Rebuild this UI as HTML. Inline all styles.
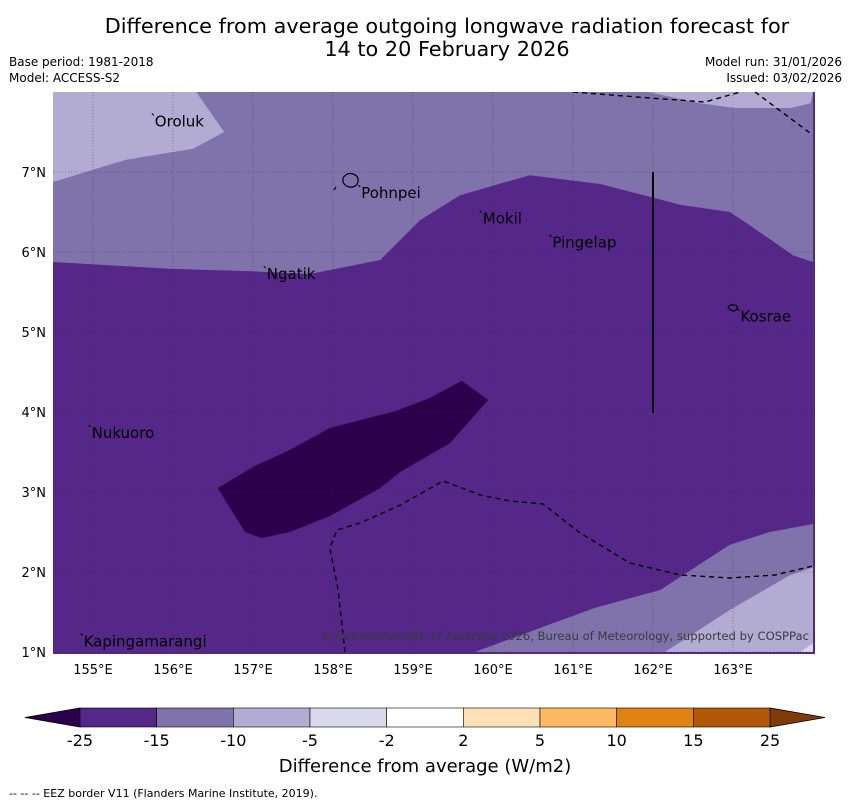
<!DOCTYPE html>
<html><head><meta charset="utf-8"><style>
body{margin:0;background:#fff;width:850px;height:804px;overflow:hidden;font-family:"DejaVu Sans","Liberation Sans",sans-serif}
</style></head><body>
<svg id="chart" width="850" height="804" xmlns="http://www.w3.org/2000/svg" font-family="DejaVu Sans, Liberation Sans, sans-serif">
<text x="447" y="33" font-size="20.8" text-anchor="middle">Difference from average outgoing longwave radiation forecast for</text>
<text x="447" y="56" font-size="20.8" text-anchor="middle">14 to 20 February 2026</text>
<text x="9" y="66" font-size="12">Base period: 1981-2018</text>
<text x="9" y="82" font-size="12">Model: ACCESS-S2</text>
<text x="842" y="66" font-size="12" text-anchor="end">Model run: 31/01/2026</text>
<text x="842" y="82" font-size="12" text-anchor="end">Issued: 03/02/2026</text>
<defs><clipPath id="mc"><rect x="53" y="92" width="762" height="562"/></clipPath></defs>
<g id="map" clip-path="url(#mc)"></g>
<g id="axes"></g>
<g id="cbar"></g>
<text x="425" y="772" font-size="18" text-anchor="middle">Difference from average (W/m2)</text>
<text x="9" y="797" font-size="11">--  --  -- EEZ border V11 (Flanders Marine Institute, 2019).</text>
</svg>
<script>
const lonTicks=[155,156,157,158,159,160,161,162,163];
const latTicks=[1,2,3,4,5,6,7];
const cbLevels=["-25","-15","-10","-5","-2","2","5","10","15","25"];
const cbColors=["#542788","#8073ac","#b2abd2","#d8daeb","#ffffff","#fee0b6","#fdb863","#e08214","#b35806"];
const cbExtendLow="#2d004b", cbExtendHigh="#7f3b08";
const polyTopLight=[[154.5,8],[156.29,8],[156.64,7.5],[156.25,7.29],[155.4,7.15],[154.5,6.875]];
const polyMidUpper=[[154.5,8],[164,8],[164,5.875],[163.75,5.96],[163.2,6.34],[162.96,6.5],[162.34,6.59],[161.34,6.85],[160.46,6.96],[159.59,6.71],[159.09,6.4],[158.59,5.9],[157.71,5.725],[156.96,5.76],[155.96,5.79],[154.5,5.875]];
const polyTopRightLight=[[161.94,8],[162.59,7.86],[163.03,7.8],[163.72,7.8],[163.97,7.86],[164,8]];
const polyDark=[[156.56,3.05],[156.9,2.5],[157.11,2.425],[157.46,2.5],[157.96,2.7],[158.59,3.05],[158.84,3.25],[159.46,3.61],[159.94,4.15],[159.61,4.39],[159.21,4.175],[158.775,4.01],[157.96,3.8],[157.46,3.525],[157.02,3.325]];
const polyBottomMid=[[159.77,1.0],[160.34,1.21],[161.27,1.55],[162.09,1.775],[162.96,2.34],[163.46,2.5],[164,2.6],[164,1]];
const polyBottomLight=[[162.15,1],[162.96,1.525],[163.71,1.96],[164,2.06],[164,1]];
const polyBottomLightest=[[163.84,1],[164,1.11],[164,1]];
const eezBottom=[[158.15,1.0],[158.06,1.8],[157.96,2.3],[158.05,2.525],[158.34,2.6125],[158.84,2.8375],[159.375,3.1375],[159.84,2.9625],[160.21,2.8875],[160.625,2.85],[161.09,2.4875],[161.71,2.1125],[162.34,1.9625],[162.96,1.925],[163.525,1.9625],[164,2.075]];
const eezTop1=[[161,8],[161.96,7.925],[162.65,7.875],[163.09,8]];
const eezTop2=[[163.275,8],[164,7.46]];
const boundaryLine=[[162,7],[162,3.99]];
const islandNames=["Oroluk","Pohnpei","Mokil","Pingelap","Ngatik","Kosrae","Nukuoro","Kapingamarangi"];
const islandLon=[155.76,158.34,159.86,160.73,157.16,163.08,154.97,154.87];
const islandLat=[7.62,6.725,6.405,6.105,5.71,5.18,3.725,1.12];

const X=lon=>53+(lon-154.5)*80, Y=lat=>92+(8-lat)*80;
const NS="http://www.w3.org/2000/svg";
const map=document.getElementById('map'),axes=document.getElementById('axes'),cb=document.getElementById('cbar');
function mk(tag,attrs,parent){const e=document.createElementNS(NS,tag);for(const k in attrs)e.setAttribute(k,attrs[k]);parent.appendChild(e);return e;}
const pts=a=>a.map(p=>X(p[0]).toFixed(1)+','+Y(p[1]).toFixed(1)).join(' ');
let bg=mk('rect',{x:53,y:92,width:762,height:562,fill:'#542788'},map);


const fills=[[polyMidUpper,'#8073ac','region-minus10-15-north'],[polyTopLight,'#b2abd2','region-minus5-10-northwest'],[polyTopRightLight,'#b2abd2','region-minus5-10-northeast'],[polyDark,'#2d004b','region-below-minus25'],[polyBottomMid,'#8073ac','region-minus10-15-southeast'],[polyBottomLight,'#b2abd2','region-minus5-10-southeast'],[polyBottomLightest,'#d8daeb','region-minus2-5-southeast']];
fills.forEach(f=>{const p=mk('polygon',{points:pts(f[0]),fill:f[1]},map);

});
lonTicks.forEach(l=>{const g=mk('line',{x1:X(l),x2:X(l),y1:92,y2:654,stroke:'#333','stroke-opacity':0.5,'stroke-width':0.8,'stroke-dasharray':'1,2'},map);

});
latTicks.forEach(l=>{const g=mk('line',{x1:53,x2:815,y1:Y(l),y2:Y(l),stroke:'#333','stroke-opacity':0.5,'stroke-width':0.8,'stroke-dasharray':'1,2'},map);

});
[eezBottom,eezTop1,eezTop2].forEach(a=>{const l=mk('polyline',{points:pts(a),fill:'none',stroke:'#000','stroke-width':1.4,'stroke-dasharray':'5,4'},map);

});
let bl=mk('polyline',{points:pts(boundaryLine),fill:'none',stroke:'#000','stroke-width':2},map);


islandNames.forEach((n,i)=>{const x=X(islandLon[i]),y=Y(islandLat[i]);
const m=mk('line',{x1:x-2,y1:y-9,x2:x,y2:y-7,stroke:'#000','stroke-width':1},map);


const t=mk('text',{x:x+1,y:y+4,'font-size':15},map);t.textContent=n;

});
let po=mk('path',{d:'M343,178 q4,-6 10,-4 q6,2 5,8 q-2,6 -9,5 q-7,-2 -6,-9z M334,190 l2,-3',fill:'none',stroke:'#000','stroke-width':1.2},map);


let ko=mk('path',{d:'M728,307 q4,-4 9,-1 q1,4 -3,5 q-4,0 -6,-4z',fill:'none',stroke:'#000','stroke-width':1.2},map);


let cr=mk('text',{x:809,y:640,'font-size':11.6,fill:'#3a3a3a','text-anchor':'end'},map);cr.textContent='© Commonwealth of Australia 2026, Bureau of Meteorology, supported by COSPPac';


lonTicks.forEach(l=>{const t=mk('text',{x:X(l),y:674,'font-size':13,'text-anchor':'middle'},axes);t.textContent=l+'°E';

});
latTicks.forEach(l=>{const t=mk('text',{x:46,y:Y(l)+5,'font-size':13,'text-anchor':'end'},axes);t.textContent=l+'°N';

});
const cx0=80,cx1=770,cy=708,ch=19,sw=(cx1-cx0)/cbColors.length;
let lt=mk('polygon',{points:`${cx0},${cy} ${cx0},${cy+ch} 25,${cy+ch/2}`,fill:cbExtendLow,stroke:'#000','stroke-width':0.8},cb);


let rt=mk('polygon',{points:`${cx1},${cy} ${cx1},${cy+ch} 825,${cy+ch/2}`,fill:cbExtendHigh,stroke:'#000','stroke-width':0.8},cb);


cbColors.forEach((c,i)=>{const r=mk('rect',{x:cx0+i*sw,y:cy,width:sw,height:ch,fill:c,stroke:'#000','stroke-width':0.6},cb);

});
cbLevels.forEach((v,i)=>{const t=mk('text',{x:cx0+i*sw,y:746,'font-size':16,'text-anchor':'middle'},cb);t.textContent=v;

});
</script>
</body></html>
